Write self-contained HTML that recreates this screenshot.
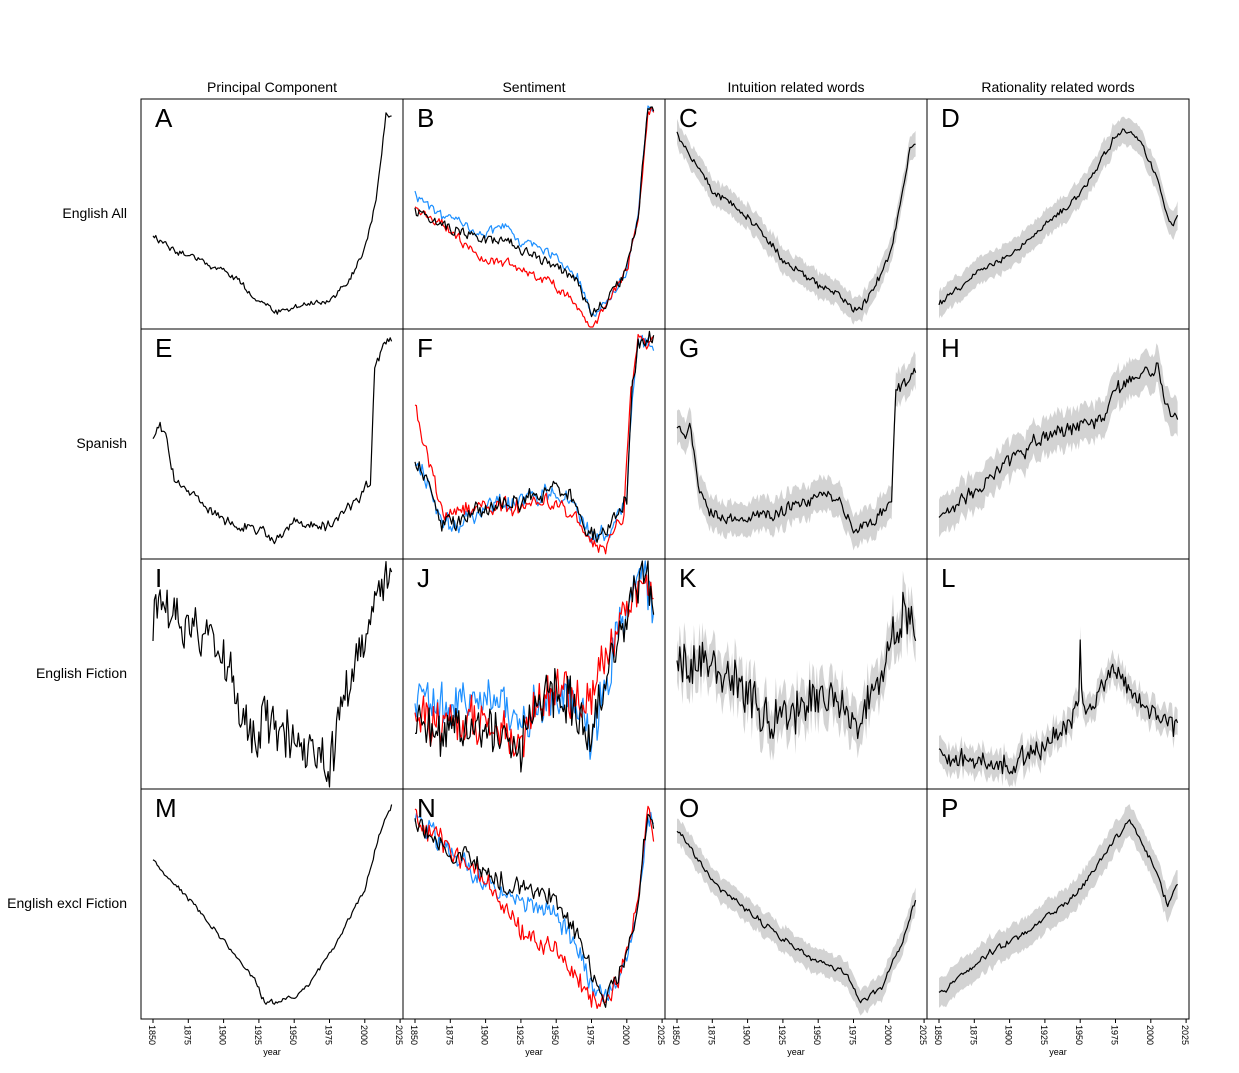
<!DOCTYPE html>
<html><head><meta charset="utf-8"><style>
body{margin:0;background:#fff;}
svg{display:block;font-family:"Liberation Sans",Arial,sans-serif;}
</style></head><body>
<svg id="s" width="1239" height="1073" xmlns="http://www.w3.org/2000/svg"></svg>
<script>
var S=document.getElementById('s');var out='';
var seed=12345;function rnd(){seed=(seed*16807)%2147483647;return seed/2147483647;}
function interp(pts,yr){for(var i=0;i<pts.length-1;i++){if(yr>=pts[i][0]&&yr<=pts[i+1][0]){var t=(yr-pts[i][0])/(pts[i+1][0]-pts[i][0]);return pts[i][1]+t*(pts[i+1][1]-pts[i][1]);}}return pts[pts.length-1][1];}
function series(pts,amp,rough){var a=[];var w=0;for(var y=1850;y<=2019;y++){w=w*(1-rough)+(rnd()-0.5)*2*amp*rough*2;var n=(rnd()-0.5)*amp*rough;a.push(interp(pts,y)+w*0.5+n);}return a;}
function X(col,yr){return 141+col*262+12+(yr-1850)*1.412;}
function line(col,row,arr,color,wd){var d='';for(var i=0;i<arr.length;i++){var y=Math.max(2,Math.min(228,arr[i]));d+=(i?'L':'M')+X(col,1850+i).toFixed(1)+','+(99+row*230+y).toFixed(1);}out+='<path d="'+d+'" fill="none" stroke="'+color+'" stroke-width="'+(wd||1.2)+'" stroke-linejoin="round"/>';}
function band(col,row,arr,bw){var d='';for(var i=0;i<arr.length;i++){d+=(i?'L':'M')+X(col,1850+i).toFixed(1)+','+(99+row*230+arr[i]-bw-rnd()*3).toFixed(1);}for(var i=arr.length-1;i>=0;i--){d+='L'+X(col,1850+i).toFixed(1)+','+(99+row*230+arr[i]+bw+rnd()*3).toFixed(1);}out+='<path d="'+d+'Z" fill="#d3d3d3" stroke="none"/>';}
function shift(pts,f){return pts.map(function(p){return [p[0],p[1]+f(p[0])];});}
// A
line(0,0,series([[1850,138],[1880,160],[1905,175],[1920,195],[1935,213],[1950,207],[1975,203],[1990,180],[2000,151],[2008,100],[2013,40],[2015,14],[2019,15]],5,0.5),'#000');
// B
var bk=[[1850,111],[1870,126],[1900,141],[1915,140],[1925,150],[1935,155],[1950,166],[1965,185],[1975,212],[1985,205],[2000,171],[2008,120],[2013,40],[2015,11],[2019,10]];
line(1,0,series(shift(bk,function(y){return y>1850&&y<1970?-8:(y<1850.5?-15:0);}),8,0.5),'#1e90ff');
line(1,0,series(shift(bk,function(y){return y>1870&&y<1980?(y<1900?12:22):0;}),8,0.5),'#ff0000');
line(1,0,series(bk,8,0.5),'#000');
// C
var c=series([[1850,36],[1875,91],[1900,116],[1925,161],[1950,186],[1970,201],[1975,211],[1985,201],[2000,161],[2010,91],[2015,51],[2019,46]],6,0.5);band(2,0,c,11);line(2,0,c,'#000');
var d=series([[1850,206],[1875,176],[1900,156],[1925,126],[1950,96],[1965,61],[1975,36],[1985,29],[1995,51],[2005,81],[2010,111],[2015,126],[2019,116]],5,0.5);band(3,0,d,12);line(3,0,d,'#000');
// E
line(0,1,series([[1850,111],[1855,91],[1860,111],[1865,151],[1875,161],[1900,191],[1925,201],[1935,214],[1950,196],[1975,196],[1995,171],[2004,151],[2007,40],[2012,18],[2019,11]],7,0.6),'#000');
var fb=[[1850,131],[1860,151],[1868,191],[1875,196],[1900,181],[1925,171],[1950,161],[1960,171],[1970,196],[1980,206],[1990,191],[2000,171],[2004,60],[2008,16],[2019,11]];
line(1,1,series(shift(fb,function(y){return y>1950&&y<2000?3:0;}),12,0.6),'#1e90ff');
line(1,1,series([[1850,81],[1860,131],[1870,186],[1900,176],[1925,176],[1950,171],[1965,191],[1975,211],[1985,216],[1998,181],[2003,60],[2008,16],[2019,11]],12,0.6),'#ff0000');
line(1,1,series(fb,12,0.6),'#000');
var g=series([[1850,101],[1860,101],[1865,161],[1875,186],[1900,191],[1925,181],[1950,166],[1965,171],[1975,201],[1990,191],[2002,171],[2005,61],[2015,51],[2019,41]],8,0.6);band(2,1,g,15);line(2,1,g,'#000');
var h=series([[1850,191],[1875,161],[1900,131],[1925,106],[1950,96],[1965,91],[1975,61],[1985,51],[2000,41],[2005,36],[2010,71],[2019,96]],10,0.6);band(3,1,h,17);line(3,1,h,'#000');
// I
line(0,2,series([[1850,71],[1855,41],[1875,71],[1900,91],[1910,131],[1920,181],[1930,161],[1940,171],[1950,181],[1960,191],[1975,211],[1985,141],[2000,81],[2010,21],[2015,15],[2019,31]],22,0.9),'#000');
var jb=[[1850,170],[1875,170],[1900,165],[1925,190],[1935,150],[1950,130],[1960,145],[1975,170],[1985,130],[1990,95],[2000,55],[2012,12],[2019,50]];
line(1,2,series(shift(jb,function(y){return y<1935?-25:(y>1970&&y<1985?6:0);}),22,0.9),'#1e90ff');
line(1,2,series([[1850,160],[1875,165],[1900,160],[1925,185],[1935,150],[1950,130],[1965,145],[1975,140],[1980,110],[1990,85],[2000,55],[2012,12],[2019,40]],20,0.9),'#ff0000');
line(1,2,series(jb,22,0.9),'#000');
var k=series([[1850,111],[1875,101],[1900,131],[1915,171],[1925,161],[1950,141],[1960,141],[1975,176],[1990,131],[2000,91],[2010,51],[2019,61]],20,0.9);band(2,2,k,20);line(2,2,k,'#000');
var l=series([[1850,196],[1875,201],[1900,206],[1925,186],[1950,151],[1960,141],[1970,121],[1975,106],[1980,121],[2000,151],[2019,171]],10,0.8);l[100]=81;l[101]=130;band(3,2,l,12);line(3,2,l,'#000');
// M
line(0,3,series([[1850,71],[1875,111],[1900,151],[1920,186],[1930,216],[1940,211],[1950,211],[1960,196],[1975,166],[2000,101],[2010,46],[2019,16]],4,0.5),'#000');
var nb=[[1850,31],[1875,61],[1900,81],[1925,101],[1950,111],[1965,146],[1975,186],[1985,211],[2000,171],[2010,91],[2015,21],[2019,41]];
line(1,3,series(shift(nb,function(y){return y>1890&&y<1980?12:0;}),12,0.7),'#1e90ff');
line(1,3,series([[1850,31],[1875,61],[1900,91],[1925,141],[1950,161],[1975,211],[1985,211],[2000,171],[2010,91],[2015,21],[2019,41]],12,0.7),'#ff0000');
line(1,3,series(nb,12,0.7),'#000');
var o=series([[1850,41],[1875,91],[1900,121],[1925,151],[1950,171],[1970,186],[1980,211],[1995,201],[2010,151],[2019,111]],5,0.5);band(2,3,o,11);line(2,3,o,'#000');
var p=series([[1850,206],[1875,176],[1900,151],[1925,131],[1950,101],[1975,51],[1985,31],[1995,56],[2005,86],[2012,116],[2019,91]],5,0.5);band(3,3,p,14);line(3,3,p,'#000');
// frames, labels
var letters='ABCDEFGHIJKLMNOP';
for(var r=0;r<4;r++)for(var cI=0;cI<4;cI++){out+='<rect x="'+(141+cI*262)+'" y="'+(99+r*230)+'" width="262" height="230" fill="none" stroke="#000" stroke-width="1"/>';out+='<text x="'+(155+cI*262)+'" y="'+(127+r*230)+'" font-size="26">'+letters[r*4+cI]+'</text>';}
var titles=['Principal Component','Sentiment','Intuition related words','Rationality related words'];
for(var cI=0;cI<4;cI++){out+='<text x="'+(272+cI*262)+'" y="92" font-size="14" text-anchor="middle">'+titles[cI]+'</text>';
 for(var t=0;t<8;t++){var yr=1850+t*25;var x=X(cI,yr);out+='<line x1="'+x+'" y1="1019" x2="'+x+'" y2="1023" stroke="#000"/>';out+='<text transform="translate('+(x-4)+',1025) rotate(90)" font-size="9">'+yr+'</text>';}
 out+='<text x="'+(272+cI*262)+'" y="1055" font-size="9" text-anchor="middle">year</text>';}
var rows=['English All','Spanish','English Fiction','English excl Fiction'];
for(var r=0;r<4;r++)out+='<text x="127" y="'+(218+r*230)+'" font-size="14" text-anchor="end">'+rows[r]+'</text>';
S.innerHTML=out;
</script>
</body></html>
